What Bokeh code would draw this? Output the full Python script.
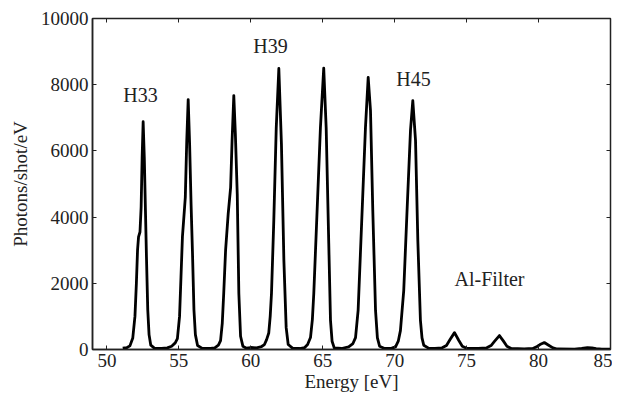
from bokeh.plotting import figure
from bokeh.models import Range1d, LinearAxis, FixedTicker, Label
from bokeh.embed import file_html
from bokeh.resources import INLINE

energy = [51.1, 51.4, 51.6, 51.8, 51.95, 52.05, 52.13, 52.2, 52.3, 52.38, 52.45, 52.52, 52.6, 52.68,
          52.75, 52.84, 52.93, 53.05, 53.3, 53.8, 54.2, 54.5, 54.75, 54.9, 55.05, 55.15, 55.25, 55.35,
          55.45, 55.55, 55.65, 55.75, 55.85, 55.95, 56.05, 56.15, 56.3, 56.6, 57.2, 57.5, 57.75, 57.9,
          58.02, 58.12, 58.25, 58.43, 58.6, 58.7, 58.82, 58.93, 59.06, 59.17, 59.29, 59.45, 59.7, 60.0,
          60.4, 60.75, 60.95, 61.1, 61.25, 61.35, 61.44, 61.6, 61.77, 61.95, 62.13, 62.3, 62.46, 62.6,
          62.9, 63.4, 63.75, 63.95, 64.15, 64.28, 64.38, 64.61, 64.84, 65.07, 65.24, 65.42, 65.54, 65.65,
          65.8, 66.3, 66.8, 67.1, 67.28, 67.46, 67.74, 67.97, 68.16, 68.32, 68.48, 68.67, 68.8, 68.95,
          69.3, 69.8, 70.06, 70.25, 70.4, 70.63, 70.87, 71.1, 71.26, 71.45, 71.61, 71.79, 71.9, 72.02,
          72.35, 72.8, 73.3, 73.6, 73.85, 74.16, 74.45, 74.7, 75.0, 75.8, 76.4, 76.7, 76.95, 77.28,
          77.55, 77.8, 78.1, 79.0, 79.6, 79.9, 80.1, 80.4, 80.7, 81.0, 81.3, 82.5, 83.0, 83.4, 83.7,
          84.0, 84.4, 85.0]
photons = [40, 60, 110, 350, 1000, 2000, 3000, 3400, 3550, 4300, 5800, 6880, 5800, 4200,
           2800, 1200, 450, 130, 40, 30, 50, 100, 200, 330, 1000, 2200, 3400, 4000,
           4600, 6300, 7550, 6200, 4400, 2900, 1200, 450, 120, 40, 30, 50, 130, 270,
           800, 1700, 3000, 4100, 4900, 6300, 7670, 6500, 4700, 1700, 400, 100, 40, 60,
           50, 90, 150, 300, 500, 1000, 1700, 3900, 6700, 8490, 6220, 2700, 660, 150,
           40, 30, 60, 150, 360, 900, 1700, 4200, 6700, 8500, 6700, 3200, 880, 250,
           50, 30, 80, 180, 360, 1180, 4200, 6700, 8220, 7220, 4200, 1180, 350, 100,
           30, 40, 80, 250, 570, 1780, 4290, 6620, 7520, 6310, 3290, 880, 350, 130,
           40, 30, 50, 120, 300, 510, 280, 100, 40, 30, 50, 120, 250, 420,
           260, 100, 30, 20, 30, 90, 150, 210, 130, 50, 15, 10, 30, 55, 50,
           25, 10, 10]

x_ticks = [50, 55, 60, 65, 70, 75, 80, 85]
y_ticks = [0, 2000, 4000, 6000, 8000, 10000]

annotations = ["H33", "H39", "H45", "Al-Filter"]
ann_x = [52.34, 61.37, 71.31, 76.59]
ann_y = [7674, 9184, 8187, 2145]

FONT = "Liberation Serif"
TXT = "#222222"

p = figure(width=612, height=400, output_backend="svg", toolbar_location=None,
           x_range=Range1d(49, 85), y_range=Range1d(0, 10000),
           min_border_left=92, min_border_top=18, min_border_right=2, min_border_bottom=51)
p.background_fill_color = "white"
p.border_fill_color = "white"
p.grid.visible = False
p.outline_line_color = "#222222"
p.outline_line_width = 1.5

p.line(energy, photons, line_color="black", line_width=2.8, line_join="round")

for ax, ticks in ((p.xaxis[0], x_ticks), (p.yaxis[0], y_ticks)):
    ax.ticker = FixedTicker(ticks=ticks)
    ax.major_tick_in = 4
    ax.major_tick_out = 0
    ax.minor_tick_line_color = None
    ax.axis_line_color = "#222222"
    ax.axis_line_width = 1.5
    ax.major_tick_line_color = "#222222"
    ax.major_label_text_font = FONT
    ax.major_label_text_font_size = "19px"
    ax.major_label_text_color = TXT
    ax.axis_label_text_font = FONT
    ax.axis_label_text_font_size = "19px"
    ax.axis_label_text_font_style = "normal"
    ax.axis_label_text_color = TXT

p.xaxis.axis_label = "Energy [eV]"
p.yaxis.axis_label = "Photons/shot/eV"
p.xaxis.major_label_standoff = 4
p.xaxis.axis_label_standoff = 1
p.yaxis.major_label_standoff = 4
p.yaxis.axis_label_standoff = 7

top = LinearAxis(ticker=FixedTicker(ticks=x_ticks), major_tick_in=4, major_tick_out=0,
                 minor_tick_line_color=None, major_label_text_font_size="0px",
                 major_label_text_color=None,
                 major_label_standoff=0, axis_line_color=None, major_tick_line_color="#222222")
right = LinearAxis(ticker=FixedTicker(ticks=y_ticks), major_tick_in=4, major_tick_out=0,
                   minor_tick_line_color=None, major_label_text_font_size="0px",
                   major_label_text_color=None,
                   major_label_standoff=0, axis_line_color=None, major_tick_line_color="#222222")
p.add_layout(top, "above")
p.add_layout(right, "right")

for t, xx, yy in zip(annotations, ann_x, ann_y):
    p.add_layout(Label(x=xx, y=yy, text=t, text_align="center", text_baseline="middle",
                       text_font=FONT, text_font_size="20px", text_color=TXT))

open("out.html", "w").write(file_html(p, INLINE))
